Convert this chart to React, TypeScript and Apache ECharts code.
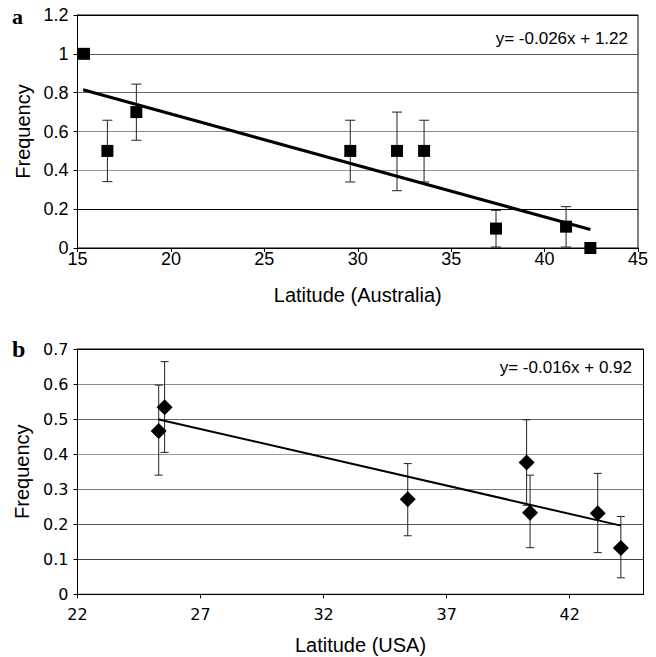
import React, { useEffect, useRef } from "react";
import * as echarts from "echarts";

// Panel a (Australia)
const ausPoints: number[][] = [
  [15.35, 1.0], [16.6, 0.5], [18.15, 0.7], [29.6, 0.5], [32.1, 0.5],
  [33.55, 0.5], [37.4, 0.1], [41.15, 0.11], [42.45, 0.0],
];
const ausErrors: number[][] = [
  [16.6, 0.342, 0.658], [18.15, 0.555, 0.844], [29.6, 0.34, 0.658],
  [32.1, 0.295, 0.7], [33.55, 0.34, 0.658], [37.4, 0.005, 0.194], [41.15, 0.005, 0.213],
];
const ausTrend: number[][] = [[15.3, 0.815], [42.45, 0.095]];
const ausEquation = "y= -0.026x + 1.22";

// Panel b (USA)
const usaPoints: number[][] = [
  [25.3, 0.466], [25.54, 0.534], [35.42, 0.271], [40.25, 0.376],
  [40.39, 0.233], [43.14, 0.231], [44.08, 0.132],
];
const usaErrors: number[][] = [
  [25.3, 0.34, 0.597], [25.54, 0.405, 0.664], [35.42, 0.167, 0.373],
  [40.25, 0.254, 0.498], [40.39, 0.133, 0.34], [43.14, 0.119, 0.345], [44.08, 0.047, 0.222],
];
const usaTrend: number[][] = [[25.3, 0.499], [44.08, 0.196]];
const usaEquation = "y= -0.016x + 0.92";

const SANS = "Liberation Sans, Arial, sans-serif";
const DEJAVU = "DejaVu Sans, Verdana, sans-serif";

function errorRender(cap: number) {
  return (params: any, api: any) => {
    const x = api.value(0);
    const lo = api.coord([x, api.value(1)]);
    const hi = api.coord([x, api.value(2)]);
    const style = { stroke: "#222", lineWidth: 1 };
    return {
      type: "group",
      children: [
        { type: "line", shape: { x1: lo[0], y1: lo[1], x2: hi[0], y2: hi[1] }, style },
        { type: "line", shape: { x1: lo[0] - cap, y1: lo[1], x2: lo[0] + cap, y2: lo[1] }, style },
        { type: "line", shape: { x1: hi[0] - cap, y1: hi[1], x2: hi[0] + cap, y2: hi[1] }, style },
      ],
    };
  };
}

export default function App() {
  const ref = useRef<HTMLDivElement>(null);
  useEffect(() => {
    const chart = echarts.init(ref.current!, undefined, { renderer: "svg" });
    const axisLine = { show: true, lineStyle: { color: "#000", width: 1 } };
    const axisTick = { show: true, inside: false, length: 4, lineStyle: { color: "#000" } };
    chart.setOption({
      animation: false,
      backgroundColor: "#fff",
      grid: [
        { left: 77.5, right: 18, top: 15, bottom: 409, show: true, borderColor: "#000", borderWidth: 1, containLabel: false },
        { left: 77.5, right: 12.5, top: 349, bottom: 62.7, show: true, borderColor: "#000", borderWidth: 1, containLabel: false },
      ],
      xAxis: [
        {
          gridIndex: 0, type: "value", min: 15, max: 45, interval: 5,
          name: "Latitude (Australia)", nameLocation: "middle", nameGap: 37,
          nameTextStyle: { fontFamily: SANS, fontSize: 20, color: "#000" },
          axisLine, axisTick,
          axisLabel: { fontFamily: SANS, fontSize: 18, color: "#000", margin: 2 },
          splitLine: { show: false },
        },
        {
          gridIndex: 1, type: "value", min: 22, max: 45, interval: 5,
          name: "Latitude (USA)", nameLocation: "middle", nameGap: 41,
          nameTextStyle: { fontFamily: SANS, fontSize: 20, color: "#000" },
          axisLine, axisTick,
          axisLabel: { fontFamily: DEJAVU, fontSize: 16, color: "#000", margin: 12, showMaxLabel: false },
          splitLine: { show: false },
        },
      ],
      yAxis: [
        {
          gridIndex: 0, type: "value", min: 0, max: 1.2, interval: 0.2,
          name: "Frequency", nameLocation: "middle", nameGap: 45,
          nameTextStyle: { fontFamily: SANS, fontSize: 20, color: "#000" },
          axisLine, axisTick,
          axisLabel: { fontFamily: SANS, fontSize: 18, color: "#000", margin: 9 },
          splitLine: { show: true, lineStyle: { width: 1, color: ["#000", "#000", "#999", "#888", "#666", "#555", "#000"] } },
        },
        {
          gridIndex: 1, type: "value", min: 0, max: 0.7, interval: 0.1,
          name: "Frequency", nameLocation: "middle", nameGap: 45,
          nameTextStyle: { fontFamily: SANS, fontSize: 20, color: "#000" },
          axisLine, axisTick,
          axisLabel: { fontFamily: DEJAVU, fontSize: 16, color: "#000", margin: 9 },
          splitLine: { show: true, lineStyle: { width: 1, color: ["#000", "#444", "#555", "#777", "#999", "#666", "#888", "#000"] } },
        },
      ],
      graphic: [
        { type: "text", left: 12, top: 5, style: { text: "a", font: "bold 22px Liberation Serif, serif", fill: "#000" } },
        { type: "text", left: 12, top: 337, style: { text: "b", font: "bold 24px Liberation Serif, serif", fill: "#000" } },
        { type: "text", right: 28, top: 30, style: { text: ausEquation, font: `17px ${SANS}`, fill: "#000" } },
        { type: "text", right: 24, top: 359, style: { text: usaEquation, font: `17px ${SANS}`, fill: "#000" } },
      ],
      series: [
        {
          type: "custom", xAxisIndex: 0, yAxisIndex: 0, data: ausErrors,
          renderItem: errorRender(5), z: 2, silent: true,
        },
        {
          type: "scatter", xAxisIndex: 0, yAxisIndex: 0, data: ausPoints,
          symbol: "rect", symbolSize: 12, itemStyle: { color: "#000", opacity: 1 }, z: 3,
        },
        {
          type: "line", xAxisIndex: 0, yAxisIndex: 0, data: ausTrend, showSymbol: false, symbol: "none",
          lineStyle: { color: "#000", width: 3 }, z: 4,
        },
        {
          type: "custom", xAxisIndex: 1, yAxisIndex: 1, data: usaErrors,
          renderItem: errorRender(4), z: 2, silent: true,
        },
        {
          type: "scatter", xAxisIndex: 1, yAxisIndex: 1, data: usaPoints,
          symbol: "diamond", symbolSize: [16, 16], itemStyle: { color: "#000", opacity: 1 }, z: 3,
        },
        {
          type: "line", xAxisIndex: 1, yAxisIndex: 1, data: usaTrend, showSymbol: false, symbol: "none",
          lineStyle: { color: "#000", width: 2 }, z: 4,
        },
      ],
    });
    return () => chart.dispose();
  }, []);
  return <div ref={ref} style={{ position: "fixed", left: 0, top: 0, width: 656, height: 657 }} />;
}
